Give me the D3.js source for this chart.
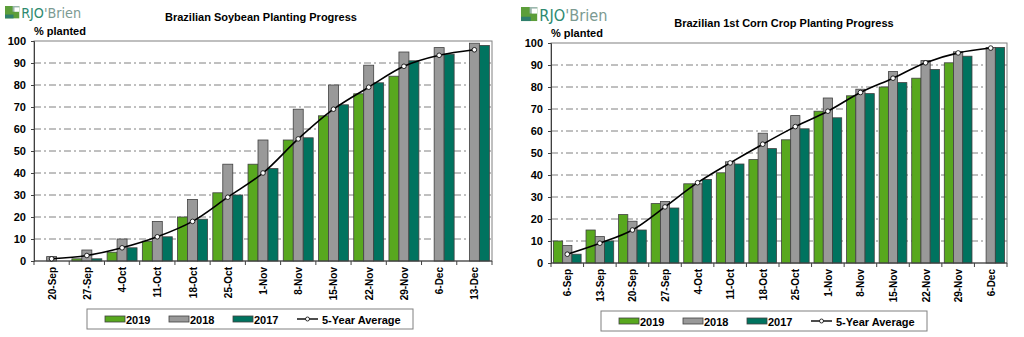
<!DOCTYPE html>
<html>
  <head>
    <meta charset="utf-8">
    <style>
      body { margin: 0; background: #fff; }
      text { font-family: Arial, "Liberation Sans", sans-serif; }
      .grid line { stroke: #808080; stroke-dasharray: 7,3,2,3; }
    </style>
  </head>
  <body>
    <svg width="1024" height="337"></svg>
    <script src="https://d3js.org/d3.v7.min.js"></script>
    <script>
      // soybean chart
      var soyDates = ["20-Sep", "27-Sep", "4-Oct", "11-Oct", "18-Oct", "25-Oct", "1-Nov", "8-Nov", "15-Nov", "22-Nov", "29-Nov", "6-Dec", "13-Dec"];
      var soy2019 = [0, 1, 4, 9, 20, 31, 44, 55, 66, 76, 84, null, null];
      var soy2018 = [2, 5, 10, 18, 28, 44, 55, 69, 80, 89, 95, 97, 99];
      var soy2017 = [0, 1, 6, 11, 19, 30, 42, 56, 71, 81, 91, 94, 98];
      var soyAvg = [1, 2.5, 6, 11, 18, 29, 40, 55.5, 69, 79, 88.5, 93.5, 96];

      // corn chart
      var cornDates = ["6-Sep", "13-Sep", "20-Sep", "27-Sep", "4-Oct", "11-Oct", "18-Oct", "25-Oct", "1-Nov", "8-Nov", "15-Nov", "22-Nov", "29-Nov", "6-Dec"];
      var corn2019 = [10, 15, 22, 27, 36, 41, 47, 56, 69, 76, 80, 84, 91, null];
      var corn2018 = [8, 12, 19, 28, 36, 46, 59, 67, 75, 79, 87, 92, 96, 98];
      var corn2017 = [4, 10, 15, 25, 38, 45, 52, 61, 66, 77, 82, 88, 94, 98];
      var cornAvg = [4, 9, 15, 25.5, 36.5, 45.5, 54, 62, 69, 77.5, 84, 91, 95.5, 97.7];

      var yTicks = [0, 10, 20, 30, 40, 50, 60, 70, 80, 90, 100];
      var seriesNames = ["2019", "2018", "2017"];
      var seriesColors = ["#58a81e", "#999999", "#00735f"];

      var svg = d3.select("svg");

      function drawLogo(x, y, s) {
        var g = svg.append("g").attr("transform", "translate(" + x + "," + y + ") scale(" + s + ")");
        g.append("rect").attr("x", 0).attr("y", 0).attr("width", 15).attr("height", 13).attr("fill", "#5c9e3a");
        g.append("rect").attr("x", 8).attr("y", 0).attr("width", 7).attr("height", 6).attr("fill", "#9bb7ad");
        g.append("rect").attr("x", 10).attr("y", 1.5).attr("width", 5).attr("height", 4.5).attr("fill", "#fff");
        g.append("rect").attr("x", 0).attr("y", 9).attr("width", 9).attr("height", 4).attr("fill", "#2f7f6c");
        var t = g.append("text").attr("x", 17).attr("y", 13)
          .style("font-family", "'Liberation Sans Narrow', 'DejaVu Sans Condensed', Arial, sans-serif")
          .style("font-size", "15px");
        t.append("tspan").attr("fill", "#2e8a70").text("RJO");
        t.append("tspan").attr("fill", "#7c9a92").text("'Brien");
      }

      function drawChart(opt) {
        var x = d3.scaleBand()
          .domain(opt.dates)
          .range([opt.left, opt.right])
          .paddingInner(0.15)
          .paddingOuter(0.075);

        var xs = d3.scaleBand()
          .domain(seriesNames)
          .range([0, x.bandwidth()]);

        var y = d3.scaleLinear()
          .domain([0, 100])
          .range([opt.bottom, opt.top]);

        var g = svg.append("g");

        // titles
        g.append("text")
          .attr("x", opt.titleX).attr("y", opt.titleY)
          .attr("text-anchor", "middle")
          .style("font-size", "11px").style("font-weight", "bold")
          .text(opt.title);

        g.append("text")
          .attr("x", opt.left).attr("y", opt.top - 6)
          .style("font-size", "11px").style("font-weight", "bold")
          .text("% planted");

        // gridlines
        g.append("g").attr("class", "grid")
          .selectAll("line")
          .data(yTicks.filter(function(d) { return d > 0 && d < 100; }))
          .enter().append("line")
          .attr("x1", opt.left).attr("x2", opt.right)
          .attr("y1", function(d) { return y(d); })
          .attr("y2", function(d) { return y(d); });

        // plot border
        g.append("rect")
          .attr("x", opt.left).attr("y", opt.top)
          .attr("width", opt.right - opt.left).attr("height", opt.bottom - opt.top)
          .attr("fill", "none").attr("stroke", "#808080");

        // bars
        var series = [opt.s2019, opt.s2018, opt.s2017];
        series.forEach(function(vals, si) {
          g.append("g").selectAll("rect")
            .data(opt.dates.map(function(d, i) { return { date: d, v: vals[i] }; })
              .filter(function(d) { return d.v != null && d.v > 0; }))
            .enter().append("rect")
            .attr("x", function(d) { return x(d.date) + xs(seriesNames[si]); })
            .attr("y", function(d) { return y(d.v); })
            .attr("width", xs.bandwidth())
            .attr("height", function(d) { return y(0) - y(d.v); })
            .attr("fill", seriesColors[si])
            .attr("stroke", "#404040")
            .attr("stroke-width", 0.8);
        });

        // y axis
        var yAxis = g.append("g")
          .attr("transform", "translate(" + opt.left + ",0)")
          .call(d3.axisLeft(y).tickValues(yTicks).tickSize(3).tickPadding(5));
        yAxis.select(".domain").attr("stroke", "#404040");
        yAxis.selectAll(".tick line").attr("stroke", "#404040");
        yAxis.selectAll("text")
          .style("font-size", "11px").style("font-weight", "bold")
          .style("font-family", "Arial, 'Liberation Sans', sans-serif")
          .attr("fill", "#000");

        // x axis
        g.append("line")
          .attr("x1", opt.left).attr("x2", opt.right)
          .attr("y1", y(0)).attr("y2", y(0))
          .attr("stroke", "#404040");

        var step = x.step();
        g.append("g").selectAll("line")
          .data(d3.range(opt.dates.length + 1))
          .enter().append("line")
          .attr("x1", function(i) { return opt.left + i * step; })
          .attr("x2", function(i) { return opt.left + i * step; })
          .attr("y1", y(0)).attr("y2", y(0) + 4)
          .attr("stroke", "#404040");

        g.append("g").selectAll("text")
          .data(opt.dates)
          .enter().append("text")
          .attr("transform", function(d) {
            return "translate(" + (x(d) + x.bandwidth() / 2 + 4) + "," + (y(0) + 6) + ") rotate(-90)";
          })
          .attr("text-anchor", "end")
          .style("font-size", "10px").style("font-weight", "bold")
          .text(function(d) { return d; });

        // 5-year average
        var avgPts = opt.dates.map(function(d, i) { return { date: d, v: opt.avg[i] }; });
        var line = d3.line()
          .x(function(d) { return x(d.date) + x.bandwidth() / 2; })
          .y(function(d) { return y(d.v); })
          .curve(d3.curveCatmullRom.alpha(0.5));

        g.append("path")
          .datum(avgPts)
          .attr("d", line)
          .attr("fill", "none")
          .attr("stroke", "#000")
          .attr("stroke-width", 1.6);

        g.append("g").selectAll("circle")
          .data(avgPts)
          .enter().append("circle")
          .attr("cx", function(d) { return x(d.date) + x.bandwidth() / 2; })
          .attr("cy", function(d) { return y(d.v); })
          .attr("r", 2.3)
          .attr("fill", "#fff")
          .attr("stroke", "#000")
          .attr("stroke-width", 0.8);

        // legend
        var lg = g.append("g").attr("transform", "translate(" + opt.legendX + "," + opt.legendY + ")");
        lg.append("rect")
          .attr("width", 326).attr("height", 20)
          .attr("fill", "#fff").attr("stroke", "#808080");
        seriesNames.forEach(function(name, i) {
          lg.append("rect")
            .attr("x", 18 + i * 64).attr("y", 7)
            .attr("width", 20).attr("height", 6)
            .attr("fill", seriesColors[i]).attr("stroke", "#404040").attr("stroke-width", 0.8);
          lg.append("text")
            .attr("x", 39 + i * 64).attr("y", 14.5)
            .style("font-size", "11px").style("font-weight", "bold")
            .text(name);
        });
        lg.append("line")
          .attr("x1", 210).attr("x2", 231).attr("y1", 10).attr("y2", 10)
          .attr("stroke", "#000").attr("stroke-width", 1.4);
        lg.append("circle")
          .attr("cx", 220.5).attr("cy", 10).attr("r", 2)
          .attr("fill", "#fff").attr("stroke", "#000").attr("stroke-width", 0.8);
        lg.append("text")
          .attr("x", 235).attr("y", 14.5)
          .style("font-size", "11px").style("font-weight", "bold")
          .text("5-Year Average");
      }

      drawLogo(5, 6, 0.95);
      drawLogo(521, 7, 1.08);

      drawChart({
        title: "Brazilian Soybean Planting Progress",
        titleX: 261, titleY: 21,
        dates: soyDates, s2019: soy2019, s2018: soy2018, s2017: soy2017, avg: soyAvg,
        left: 34, right: 492, top: 41, bottom: 261,
        legendX: 87, legendY: 309
      });

      drawChart({
        title: "Brazilian 1st Corn Crop Planting Progress",
        titleX: 784, titleY: 27,
        dates: cornDates, s2019: corn2019, s2018: corn2018, s2017: corn2017, avg: cornAvg,
        left: 551, right: 1007, top: 43, bottom: 263,
        legendX: 601, legendY: 311
      });
    </script>
  </body>
</html>
